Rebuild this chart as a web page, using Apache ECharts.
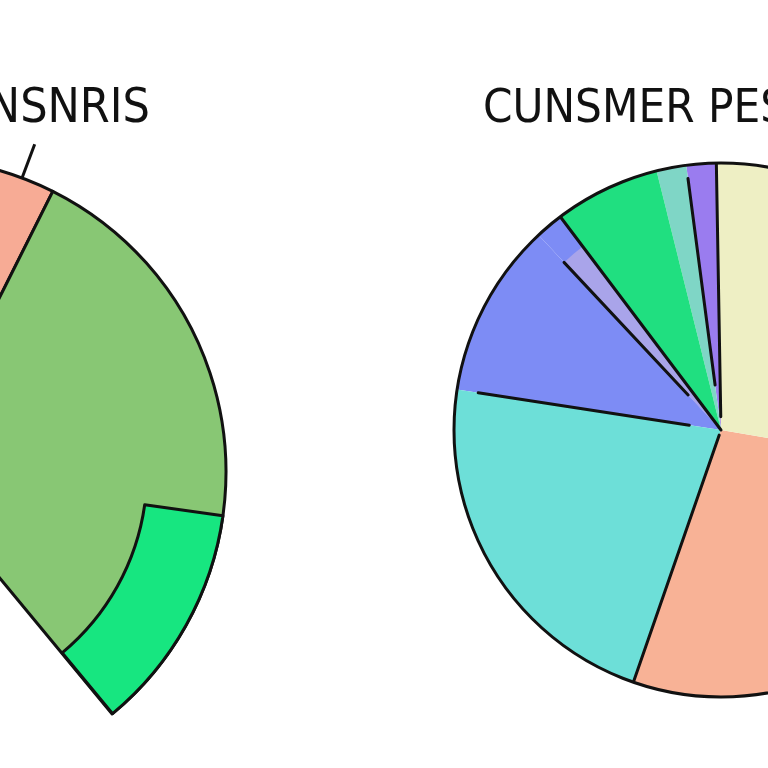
<!DOCTYPE html>
<html><head><meta charset="utf-8">
<script src="https://cdn.jsdelivr.net/npm/echarts@6/dist/echarts.min.js"></script>
<style>html,body{margin:0;padding:0;background:#fff}#c{width:768px;height:768px}</style>
</head><body><div id="c"></div>
<script>
// ---- Titles (both cut by the frame) ----
const leftTitle = 'NSNRIS';
const rightTitle = 'CUNSMER PES';

// ---- Left pie (centre lies outside the frame) ----
const leftNames = ['Peach', 'Green', 'Rest'];
const leftValues = [3.4, 31.6, 65.0];
const leftColors = ['#f7ab95', '#88c774', 'transparent'];
// outer band drawn over the green slice
const ringNames = ['Bright green', 'Rest'];
const ringValues = [11.75, 88.25];
const ringColors = ['#17e680', 'transparent'];

// ---- Right pie ----
const rightNames = ['Purple', 'Teal', 'Green', 'Lavender', 'Blue', 'Cyan', 'Peach', 'Yellow'];
const rightValues = [1.8, 1.8, 6.4, 1.7, 10.6, 22.1, 27.6, 28.0];
const rightColors = ['#9a7cef', '#7fd6c6', '#20df80', '#a9a4ea', '#7d8cf5', '#6ddfd8', '#f8b296', '#eeefc4'];
// slice boundaries that carry a drawn line: slices before boundary, inner / outer radius (fraction)
const lineBoundary = [0, 1, 3, 4, 5, 6];
const lineInner = [0.05, 0.17, 0.0, 0.18, 0.12, 0.02];
const lineOuter = [1.0, 0.95, 1.0, 0.86, 0.92, 1.0];

const FONT = '"Liberation Sans Narrow", "DejaVu Sans Condensed", "DejaVu Sans", sans-serif';
const INK = '#111';
const BW = 3;

const L_CENTER = [-88, 472], L_R = 314, L_RING_IN = 235;
const R_CENTER = [721, 430], R_R = 267, R_START = 91;

const chart = echarts.init(document.getElementById('c'), null, {renderer: 'canvas'});

const leftData = leftNames.map((n, i) => {
  const d = {name: n, value: leftValues[i], itemStyle: {color: leftColors[i],
    borderColor: INK, borderWidth: leftColors[i] === 'transparent' ? 0 : BW}};
  if (i === 0) {
    d.label = {show: true, formatter: ' ', position: 'outside'};
    d.labelLine = {show: true, length: 36, length2: 0, lineStyle: {color: INK, width: BW}};
  }
  return d;
});
const ringData = ringNames.map((n, i) => ({name: n, value: ringValues[i], itemStyle: {
  color: ringColors[i], borderColor: INK, borderWidth: ringColors[i] === 'transparent' ? 0 : BW}}));

const total = rightValues.reduce((a, b) => a + b, 0);
const fillData = rightNames.map((n, i) => ({name: n, value: rightValues[i],
  itemStyle: {color: n === 'Lavender' ? rightColors[4] : rightColors[i], borderWidth: 0}}));
const lavData = rightNames.map((n, i) => ({name: n, value: rightValues[i],
  itemStyle: {color: n === 'Lavender' ? rightColors[i] : 'transparent', borderWidth: 0}}));

const lineSeries = lineBoundary.map((b, k) => {
  let cum = 0;
  for (let i = 0; i < b; i++) cum += rightValues[i];
  const ang = R_START + cum / total * 360;
  return {type: 'line', coordinateSystem: 'polar', silent: true, symbol: 'none', animation: false,
    lineStyle: {color: INK, width: BW, cap: 'round'}, z: 5,
    data: [[lineInner[k], ang], [lineOuter[k], ang]]};
});

chart.setOption({
  animation: false,
  backgroundColor: '#fff',
  title: [
    {text: leftTitle, right: 613, top: 81, textStyle: {fontFamily: FONT, fontSize: 48, fontWeight: 'normal', color: INK}},
    {text: rightTitle, left: 478, top: 81, textStyle: {fontFamily: FONT, fontSize: 47, fontWeight: 'normal', color: INK}}
  ],
  polar: {center: R_CENTER, radius: R_R},
  angleAxis: {type: 'value', min: 0, max: 360, startAngle: 0, clockwise: false, show: false},
  radiusAxis: {type: 'value', min: 0, max: 1, show: false},
  series: [
    {type: 'pie', center: L_CENTER, radius: [0, L_R], startAngle: 75.6, clockwise: true,
      avoidLabelOverlap: false, silent: true, label: {show: false}, labelLine: {show: false},
      data: leftData},
    {type: 'pie', center: L_CENTER, radius: [L_RING_IN, L_R], startAngle: -8, clockwise: true,
      silent: true, label: {show: false}, labelLine: {show: false}, data: ringData},
    {type: 'pie', center: R_CENTER, radius: [0, R_R], startAngle: R_START, clockwise: false,
      silent: true, label: {show: false}, labelLine: {show: false}, data: fillData},
    {type: 'pie', center: R_CENTER, radius: [0, R_R * lineOuter[3]], startAngle: R_START, clockwise: false,
      silent: true, label: {show: false}, labelLine: {show: false}, data: lavData},
    {type: 'pie', center: R_CENTER, radius: [0, R_R], silent: true, label: {show: false}, labelLine: {show: false},
      data: [{name: 'outline', value: 1, itemStyle: {color: 'transparent', borderColor: INK, borderWidth: BW}}]},
    ...lineSeries
  ]
});
</script></body></html>
